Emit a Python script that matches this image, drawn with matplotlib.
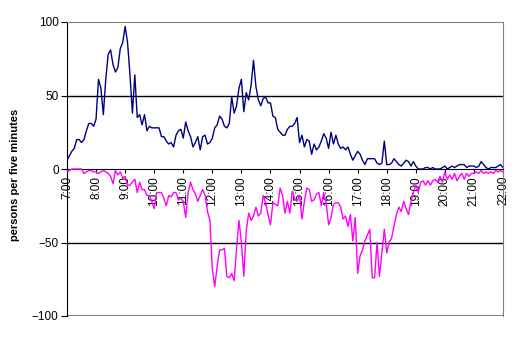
import matplotlib
matplotlib.use("Agg")
import matplotlib.pyplot as plt
import numpy as np

plt.rcParams["font.family"] = ["Liberation Sans", "DejaVu Sans"]

# five-minute counts from 7:00 to 22:00 (181 points)
arrivals = [
    6, 9, 12, 14, 20, 20, 18, 20, 26, 31, 31, 29,
    34, 61, 55, 37, 61, 78, 81, 71, 66, 69, 82, 86,
    97, 86, 64, 38, 64, 35, 37, 30, 37, 26, 29, 28,
    28, 28, 28, 22, 22, 19, 17, 18, 15, 23, 26, 27,
    21, 32, 26, 22, 15, 18, 22, 13, 22, 23, 17, 18,
    21, 28, 30, 36, 34, 29, 28, 31, 49, 38, 43, 55,
    61, 39, 52, 47, 57, 74, 56, 47, 43, 48, 49, 45,
    45, 36, 35, 27, 25, 23, 23, 27, 29, 29, 31, 35,
    18, 23, 15, 20, 19, 10, 17, 13, 15, 19, 24, 21,
    14, 25, 17, 23, 17, 14, 15, 13, 15, 10, 6, 9,
    12, 10, 6, 3, 7, 7, 7, 7, 4, 3, 4, 19,
    3, 3, 4, 7, 5, 3, 2, 4, 6, 5, 2, 5,
    2, 0, 0, 0, 1, 1, 0, 1, 0, 0, 0, 1,
    2, 0, 1, 2, 1, 2, 3, 3, 3, 1, 2, 2,
    2, 1, 2, 5, 3, 1, 0, 1, 1, 1, 2, 3,
    1,
]
departures = [
    -2, -1, 0, 0, 0, 0, 0, -3, -2, -1, -1, -2,
    -2, -3, -2, -1, -2, -3, -5, -10, -1, -4, -2, -6,
    -5, -11, -11, -9, -7, -16, -9, -14, -14, -18, -18, -22,
    -27, -16, -16, -16, -20, -25, -18, -19, -16, -16, -21, -20,
    -22, -33, -16, -9, -14, -17, -22, -18, -14, -18, -29, -35,
    -68, -80, -66, -55, -55, -54, -73, -74, -71, -76, -54, -35,
    -50, -73, -42, -30, -35, -32, -26, -32, -30, -18, -23, -31,
    -38, -23, -24, -25, -13, -18, -30, -22, -30, -15, -20, -22,
    -18, -34, -22, -13, -14, -22, -21, -17, -16, -25, -16, -23,
    -38, -33, -24, -23, -23, -26, -34, -32, -39, -31, -49, -33,
    -71, -59, -55, -49, -45, -41, -74, -74, -50, -73, -57, -41,
    -57, -50, -47, -39, -31, -26, -29, -22, -27, -31, -22, -16,
    -11, -16, -9, -8, -11, -8, -11, -8, -7, -9, -5, -9,
    -2, -7, -4, -7, -3, -8, -5, -3, -7, -3, -5, -3,
    -3, -2, -3, -1, -3, -2, -3, -2, -3, -1, -2, -1,
    -2,
]
hour_labels = ["7:00", "8:00", "9:00", "10:00", "11:00", "12:00", "13:00",
               "14:00", "15:00", "16:00", "17:00", "18:00", "19:00",
               "20:00", "21:00", "22:00"]

x = np.arange(len(arrivals))

fig = plt.figure(figsize=(5.16, 3.40), dpi=100)
ax = fig.add_axes([67 / 516, 24 / 340, 436 / 516, 294 / 340])

# lines go over the hour labels, as in the spreadsheet original
ax.plot(x, arrivals, color="#000080", linewidth=1, zorder=3)
ax.plot(x, departures, color="#FF00FF", linewidth=1, zorder=3)

ax.set_xlim(0, 180)
ax.set_ylim(-100, 100)
ax.set_yticks([-100, -50, 0, 50, 100])
ax.set_xticks(np.arange(0, 181, 12))
ax.set_xticklabels(hour_labels)

# gridlines and frame in the spreadsheet style
for v in (50, -50):
    ax.axhline(v, color="black", linewidth=1, zorder=0)
ax.axhline(-100, color="#808080", linewidth=1.5, zorder=0)
ax.spines["top"].set_color("#808080")
ax.spines["right"].set_color("#808080")
ax.spines["bottom"].set_position(("data", 0))
ax.spines["left"].set_color("black")

ax.tick_params(axis="y", direction="out", length=4, labelsize=8.5, pad=2)
ax.tick_params(axis="x", direction="out", length=3, labelsize=8.5, pad=2,
               labelrotation=90)

ax.set_ylabel("persons per five minutes", fontsize=8, fontweight="bold")
ax.yaxis.set_label_coords(-0.108, 0.48)

fig.savefig("out.png", dpi=100)
